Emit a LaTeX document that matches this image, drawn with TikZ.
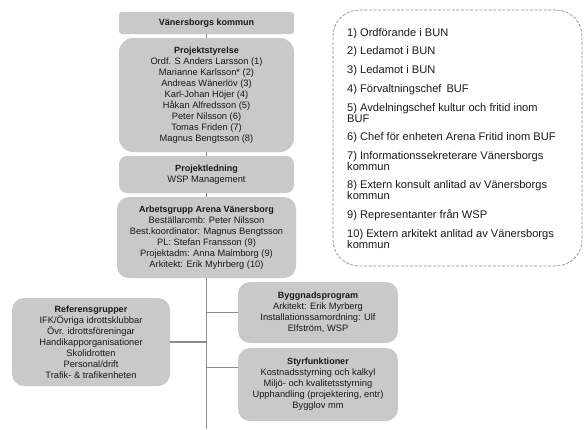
\documentclass[tikz,border=0pt]{standalone}
\usepackage{fontspec}
\setmainfont{Liberation Sans}
\usetikzlibrary{calc}
\definecolor{boxgray}{RGB}{201,201,201}
\definecolor{linegray}{RGB}{140,140,140}
\definecolor{txt}{RGB}{25,25,25}
\begin{document}
\begin{tikzpicture}[x=1pt,y=-1pt,
  box/.style={fill=boxgray, draw=none, align=center, inner sep=0pt, text=txt,
    font=\fontsize{9.3}{11}\selectfont},
  conn/.style={draw=linegray, line width=1.2pt},
  legtxt/.style={anchor=base west, inner sep=0pt, text=txt, font=\fontsize{11.1}{12}\selectfont},
  legbox/.style={draw=linegray, dash pattern=on 3pt off 1.6pt, line width=0.7pt, rounded corners=26pt}
]
\useasboundingbox (0,0) rectangle (587,429);

% org boxes
\node[box, rounded corners=3pt, minimum width=175pt, minimum height=22pt] (K) at (206.5,23)
  {\textbf{\fontsize{9}{11}\selectfont Vänersborgs kommun}};
\node[box, rounded corners=14pt, minimum width=175pt, minimum height=114pt] (PS) at (206.5,95)
  {\textbf{\fontsize{9}{11}\selectfont Projektstyrelse}\\Ordf. S Anders Larsson (1)\\Marianne Karlsson* (2)\\Andreas Wänerlöv (3)\\Karl-Johan Höjer (4)\\Håkan Alfredsson (5)\\Peter Nilsson (6)\\Tomas Friden (7)\\Magnus Bengtsson (8)};
\node[box, rounded corners=8pt, minimum width=175pt, minimum height=37pt] (PL) at (206.5,174.5)
  {\textbf{\fontsize{9}{11}\selectfont Projektledning}\\WSP Management};
\node[box, rounded corners=12pt, minimum width=179pt, minimum height=81pt] (AG) at (206.5,237.5)
  {\textbf{\fontsize{9}{11}\selectfont Arbetsgrupp Arena Vänersborg}\\Beställaromb: Peter Nilsson\\Best.koordinator: Magnus Bengtsson\\PL: Stefan Fransson (9)\\Projektadm: Anna Malmborg (9)\\Arkitekt: Erik Myhrberg (10)};
\node[box, rounded corners=12pt, minimum width=158pt, minimum height=88pt] (RG) at (91,342)
  {\textbf{\fontsize{9}{11}\selectfont Referensgrupper}\\IFK/Övriga idrottsklubbar\\Övr. idrottsföreningar\\Handikapporganisationer\\Skolidrotten\\Personal/drift\\Trafik- \& trafikenheten};
\node[box, rounded corners=12pt, minimum width=160pt, minimum height=61pt] (BP) at (318,312.5)
  {\textbf{\fontsize{9}{11}\selectfont Byggnadsprogram}\\Arkitekt: Erik Myrberg\\Installationssamordning: Ulf\\Elfström, WSP};
\node[box, rounded corners=12pt, minimum width=160pt, minimum height=73pt] (SF) at (318,384.5)
  {\textbf{\fontsize{9}{11}\selectfont Styrfunktioner}\\Kostnadsstyrning och kalkyl\\Miljö- och kvalitetsstyrning\\Upphandling (projektering, entr)\\Bygglov mm};

% connectors
\coordinate (bot) at (206.5,429);
\coordinate (sfin) at ($(SF.north west)+(0,20)$);
\draw[conn] (K.south) -- (PS.north);
\draw[conn] (PS.south) -- (PL.north);
\draw[conn] (PL.south) -- (AG.north);
\draw[conn] (AG.south) -- (bot);
\draw[conn] (RG.east) -- (RG.east -| bot);
\draw[conn] (BP.west) -- (BP.west -| bot);
\draw[conn] (sfin) -- (sfin -| bot);

% legend
\node[legbox, minimum width=249pt, minimum height=256pt, inner sep=0pt] (leg) at (457.5,138) {};
\node[legtxt] (l1) at (347,36) {1) Ordförande i BUN};
\node[legtxt] (l2) at (347,54) {2) Ledamot i BUN};
\node[legtxt] (l3) at (347,73) {3) Ledamot i BUN};
\node[legtxt] (l4) at (347,92) {4) Förvaltningschef\, BUF};
\node[legtxt] (l5a) at (347,111) {5) Avdelningschef kultur och fritid inom};
\node[legtxt] (l5b) at (347,122) {BUF};
\node[legtxt] (l6) at (347,140) {6) Chef för enheten Arena Fritid inom BUF};
\node[legtxt] (l7a) at (347,159) {7) Informationssekreterare Vänersborgs};
\node[legtxt] (l7b) at (347,170) {kommun};
\node[legtxt] (l8a) at (347,188) {8) Extern konsult anlitad av Vänersborgs};
\node[legtxt] (l8b) at (347,199.5) {kommun};
\node[legtxt] (l9) at (347,218) {9) Representanter från WSP};
\node[legtxt] (l10a) at (347,237) {10) Extern arkitekt anlitad av Vänersborgs};
\node[legtxt] (l10b) at (347,248) {kommun};
\end{tikzpicture}
\end{document}
